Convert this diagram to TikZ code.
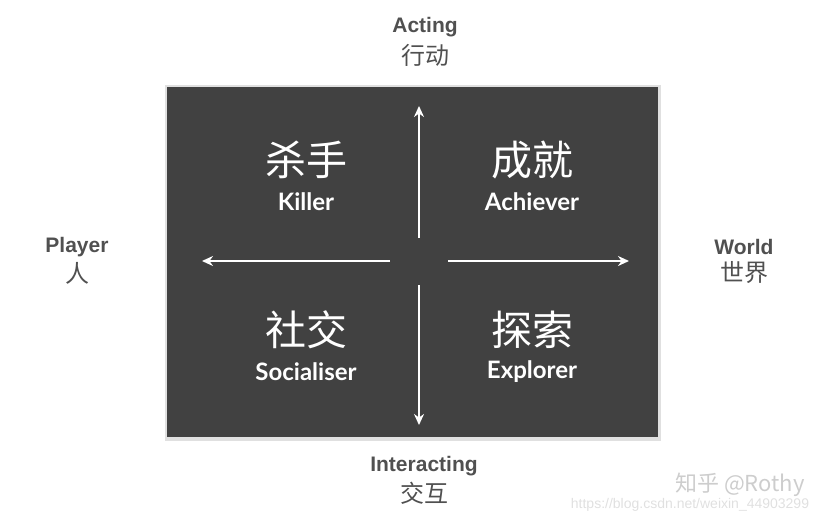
\documentclass[tikz,border=0pt]{standalone}
\usepackage{fontspec}
\usepackage{tikz}
\usetikzlibrary{arrows.meta,calc,positioning}
\setmainfont{Liberation Sans}
\newfontfamily\cjk{Noto Sans CJK SC}
\newfontfamily\roleface{Lato}
\definecolor{boardgray}{RGB}{65,65,65}
\definecolor{labelgray}{RGB}{80,80,80}
\definecolor{markgray}{RGB}{205,205,205}

\begin{document}
\begin{tikzpicture}[x=1pt,y=-1pt,
  board/.style={fill=boardgray,draw=none},
  axisname/.style={font=\fontsize{21}{23}\selectfont\bfseries,text=labelgray,inner sep=0pt},
  axiscn/.style={font=\fontsize{24}{26}\selectfont\cjk,text=labelgray,inner sep=0pt},
  rolecn/.style={font=\fontsize{41}{43}\selectfont\cjk,text=white,inner sep=0pt},
  roleen/.style={font=\fontsize{24}{26}\selectfont\roleface\bfseries,text=white,inner sep=0pt},
  axisarrow/.style={white,line width=2.4pt,-{Stealth[length=11pt,width=10pt]}}
]
\useasboundingbox (0,0) rectangle (836,522);
% shadow and board
\fill[black!12] (165,85) rectangle (661,441);
\fill[board] (167,87) rectangle (658,437);

% arrows
\coordinate (vtop) at (419,106);
\coordinate (vup) at (419,238);
\coordinate (vdown) at (419,285);
\coordinate (vbot) at (419,425);
\coordinate (hleft) at (202,261);
\coordinate (hlin) at (390,261);
\coordinate (hrin) at (448,261);
\coordinate (hright) at (629,261);
\draw[axisarrow] (vup) -- (vtop);
\draw[axisarrow] (vdown) -- (vbot);
\draw[axisarrow] (hlin) -- (hleft);
\draw[axisarrow] (hrin) -- (hright);

% quadrants
\node[rolecn] (killcn) at (306,160) {杀手};
\node[roleen] (killen) at (306,202) {Killer};
\node[rolecn] (achcn) at (532,160) {成就};
\node[roleen] (achen) at (532,202) {Achiever};
\node[rolecn] (soccn) at (306,330) {社交};
\node[roleen] (socen) at (306,372) {Socialiser};
\node[rolecn] (expcn) at (532,330) {探索};
\node[roleen] (expen) at (532,372) {Explorer};

% axis labels
\node[axisname] (acten) at (425,27) {Acting};
\node[axiscn] (actcn) at (425,55) {行动};
\node[axisname] (playen) at (77,247) {Player};
\node[axiscn] (playcn) at (77,273) {人};
\node[axisname] (worlden) at (744,247) {World};
\node[axiscn] (worldcn) at (744,273) {世界};
\node[axisname] (interen) at (424,466) {Interacting};
\node[axiscn] (intercn) at (424,493) {交互};

% watermark
\node[font=\fontsize{22}{24}\selectfont\cjk,text=markgray,inner sep=0pt] (markzh) at (740,485) {知乎 @Rothy};
\node[font=\fontsize{14}{16}\selectfont,text=black!12,inner sep=0pt] (markurl) at (690,505) {https://blog.csdn.net/weixin\_44903299};
\end{tikzpicture}
\end{document}
